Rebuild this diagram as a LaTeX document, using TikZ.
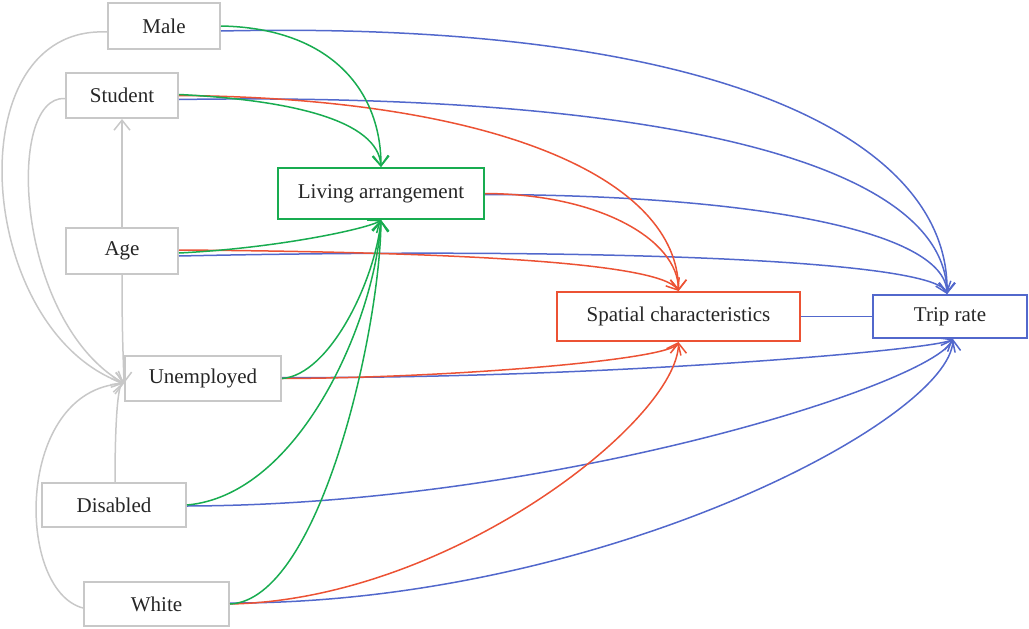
\documentclass[tikz,border=0pt]{standalone}
\usepackage{fontspec}
\setmainfont{Liberation Serif}
\usetikzlibrary{arrows.meta}
\definecolor{cblue}{RGB}{82,104,204}
\definecolor{cred}{RGB}{236,82,52}
\definecolor{cgreen}{RGB}{24,172,80}
\definecolor{cgray}{RGB}{200,200,200}
\tikzset{
  box/.style={draw=cgray,line width=2pt,fill=white,inner sep=0pt,font=\fontsize{21}{24}\selectfont,text=black!85},
  gbox/.style={box,draw=cgreen},
  rbox/.style={box,draw=cred},
  bbox/.style={box,draw=cblue},
  arr/.style={line width=1.5pt,-{Straight Barb[length=10pt,width=16pt,line width=1.5pt]}},
  ge/.style={arr,draw=cgray},
  gn/.style={arr,draw=cgreen},
  rd/.style={arr,draw=cred},
  bl/.style={arr,draw=cblue},
}
\begin{document}
\begin{tikzpicture}[x=1pt,y=-1pt]
\useasboundingbox (0,0) rectangle (1029,629);
% nodes
\node[box,minimum width=112pt,minimum height=46pt] (male) at (164,26) {Male};
\node[box,minimum width=112pt,minimum height=45pt] (student) at (122,95.5) {Student};
\node[box,minimum width=112pt,minimum height=46pt] (age) at (122,251) {Age};
\node[box,minimum width=156pt,minimum height=45pt] (unemp) at (203,378.5) {Unemployed};
\node[box,minimum width=144pt,minimum height=44pt] (disab) at (114,505) {Disabled};
\node[box,minimum width=145pt,minimum height=44pt] (white) at (156.5,604) {White};
\node[gbox,minimum width=206pt,minimum height=51pt] (la) at (381,193.5) {Living arrangement};
\node[rbox,minimum width=243pt,minimum height=49pt] (sc) at (678.5,316.5) {Spatial characteristics};
\node[bbox,minimum width=154pt,minimum height=43pt] (tr) at (950,316.5) {Trip rate};
\coordinate (uw) at ([yshift=-5pt]unemp.west);
% gray edges
\draw[ge] (age.north) -- (student.south);
\draw[ge] ([yshift=-6pt]male.west) .. controls (-45,25) and (-25,330) .. (uw);
\draw[ge] ([yshift=-3pt]student.west) .. controls (5,95) and (15,320) .. (uw);
\draw[ge] (age.south) .. controls (122,330) and (123,350) .. (uw);
\draw[ge] ([xshift=1pt]disab.north) .. controls (115,420) and (118,385) .. (uw);
\draw[ge] ([yshift=-4pt]white.west) .. controls (15,590) and (15,390) .. (uw);
% blue edges
\draw[bl] ([yshift=-5pt]male.east) .. controls (720,20) and (950,140) .. ([xshift=-3pt]tr.north);
\draw[bl] ([yshift=-4pt]student.east) .. controls (650,92) and (945,160) .. ([xshift=-3pt]tr.north);
\draw[bl] ([yshift=-1pt]la.east) .. controls (750,195) and (945,230) .. ([xshift=-3pt]tr.north);
\draw[bl] ([yshift=-5pt]age.east) .. controls (600,247) and (935,260) .. ([xshift=-3pt]tr.north);
\draw[line width=1.5pt,draw=cblue] (sc.east) -- (tr.west);
\draw[bl] ([yshift=1pt]unemp.east) .. controls (600,379) and (935,350) .. ([xshift=3pt]tr.south);
\draw[bl] ([yshift=-1pt]disab.east) .. controls (550,505) and (930,385) .. ([xshift=3pt]tr.south);
\draw[bl] ([yshift=1pt]white.east) .. controls (600,604) and (950,420) .. ([xshift=3pt]tr.south);
% red edges
\draw[rd] ([yshift=0pt]student.east) .. controls (500,98) and (678,180) .. (sc.north);
\draw[rd] (la.east) .. controls (600,194) and (678,240) .. (sc.north);
\draw[rd] ([yshift=1pt]age.east) .. controls (450,252) and (660,262) .. (sc.north);
\draw[rd] ([yshift=0pt]unemp.east) .. controls (450,378) and (670,360) .. (sc.south);
\draw[rd] ([yshift=0pt]white.east) .. controls (450,600) and (678,420) .. (sc.south);
% green edges
\draw[gn] (male.east) .. controls (330,28) and (381,90) .. (la.north);
\draw[gn] ([yshift=1pt]student.east) .. controls (290,100) and (378,120) .. (la.north);
\draw[gn] ([yshift=-2pt]age.east) .. controls (280,248) and (370,228) .. (la.south);
\draw[gn] (unemp.east) .. controls (330,375) and (375,280) .. (la.south);
\draw[gn] (disab.east) .. controls (300,495) and (375,320) .. (la.south);
\draw[gn] (white.east) .. controls (320,600) and (380,330) .. (la.south);
\end{tikzpicture}
\end{document}
